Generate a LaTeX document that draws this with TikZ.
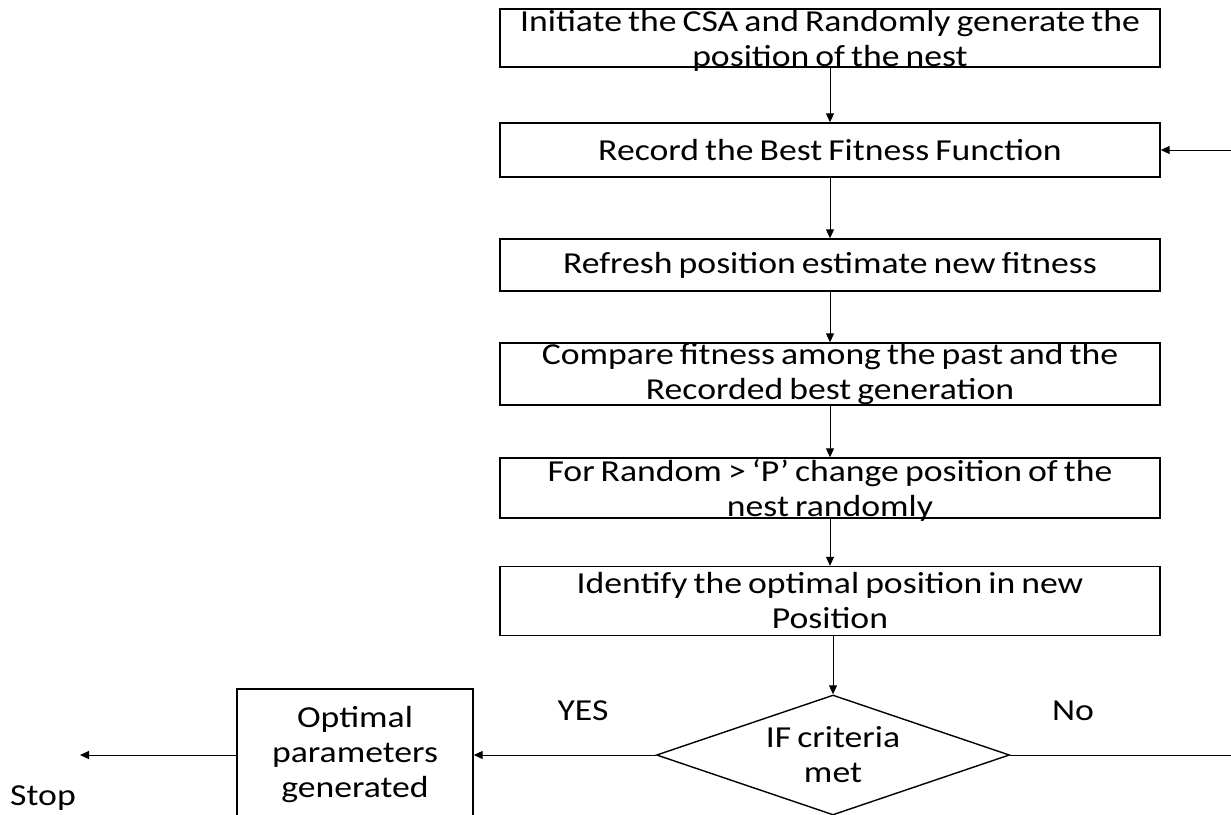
\documentclass[tikz,border=0pt]{standalone}
\usepackage{fontspec}
\setmainfont{Carlito}[FakeStretch=1.17, WordSpace=0.75]
\usetikzlibrary{shapes.geometric,arrows.meta}
\begin{document}
\begin{tikzpicture}[x=1pt,y=-1pt,
  txt/.style={font=\fontsize{30.5}{35}\selectfont},
  lab/.style={txt, align=center, inner sep=0pt},
  box/.style={draw, line width=1.4pt, minimum width=660pt, inner sep=0pt},
  dec/.style={draw, line width=1.4pt, shape=diamond, minimum width=353pt, minimum height=120pt, inner sep=0pt},
  arr/.style={-{Triangle[length=9pt,width=8pt]}, line width=1pt},
  ln/.style={line width=1pt}]
\useasboundingbox (0,0) rectangle (1231,814);
\clip (0,0) rectangle (1231,814);
\node[box, minimum height=58pt, label={[lab, yshift=-3pt]center:{Initiate the CSA and Randomly generate the\\position of the nest}}] (b1) at (830,38) {};
\node[box, minimum height=54pt, label={[lab]center:{Record the Best Fitness Function}}] (b2) at (830,150) {};
\node[box, minimum height=52pt, label={[lab]center:{Refresh position estimate new fitness}}] (b3) at (830,265) {};
\node[box, minimum height=62pt, label={[lab]center:{Compare fitness among the past and the\\Recorded best generation}}] (b4) at (830,374) {};
\node[box, minimum height=60pt, label={[lab, yshift=-2pt]center:{For Random > ‘P’ change position of the\\nest randomly}}] (b5) at (830,488) {};
\node[box, minimum height=69pt, label={[lab]center:{Identify the optimal position in new\\Position}}] (b6) at (830,601) {};
\node[dec, label={[lab]center:{IF criteria\\met}}] (d) at (833,755) {};
\node[box, minimum width=236pt, minimum height=132pt, label={[lab]center:{Optimal\\parameters\\generated}}] (opt) at (355,755) {};
\node[txt, anchor=base] (stop) at (43,805) {Stop};
\node[txt, anchor=base] (yes) at (583,720) {YES};
\node[txt, anchor=base] (no) at (1073,720) {No};
\coordinate (rin) at (1231,150);
\coordinate (rout) at (1231,755);
\coordinate (send) at (80,755);
\draw[arr] (b1) -- (b2);
\draw[arr] (b2) -- (b3);
\draw[arr] (b3) -- (b4);
\draw[arr] (b4) -- (b5);
\draw[arr] (b5) -- (b6);
\draw[arr] (b6.south -| d.north) -- (d.north);
\draw[arr] (d.west) -- (opt.east);
\draw[arr] (opt.west) -- (send);
\draw[ln] (d.east) -- (rout);
\draw[arr] (rin) -- (b2.east);
\end{tikzpicture}
\end{document}
